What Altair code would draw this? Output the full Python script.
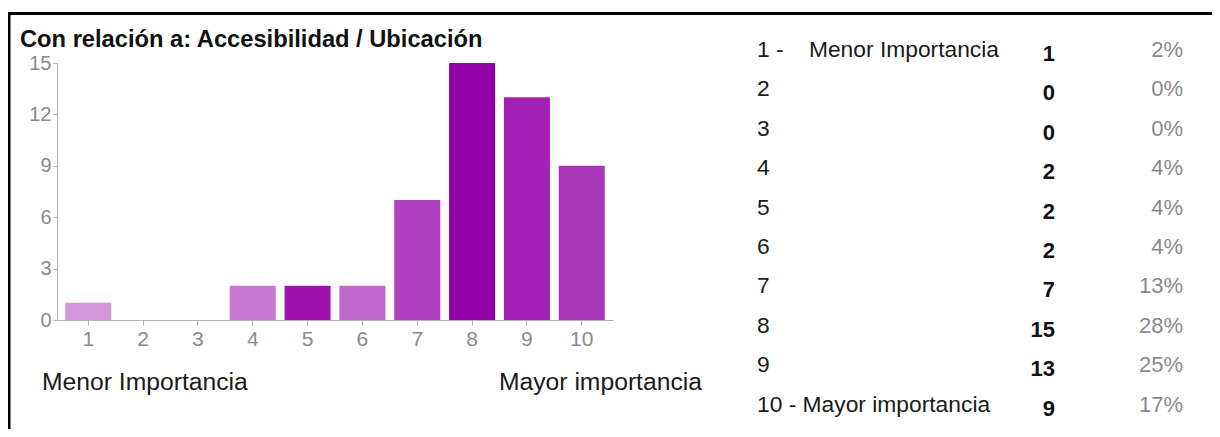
import altair as alt
import pandas as pd

# ---- data ----
ratings = ["1", "2", "3", "4", "5", "6", "7", "8", "9", "10"]
counts = [1, 0, 0, 2, 2, 2, 7, 15, 13, 9]
percents = ["2%", "0%", "0%", "4%", "4%", "4%", "13%", "28%", "25%", "17%"]
row_labels = ["1 -\u00a0\u00a0\u00a0\u00a0Menor Importancia", "2", "3", "4", "5", "6", "7", "8", "9",
              "10 - Mayor importancia"]
bar_colors = ["#d396da", "#c678d2", "#c678d2", "#c678d2", "#9e12b0",
              "#c068cc", "#b040c0", "#9400a8", "#a220b4", "#aa36ba"]
y_ticks = [0, 3, 6, 9, 12, 15]
title_text = "Con relación a: Accesibilidad / Ubicación"
low_label = "Menor Importancia"
high_label = "Mayor importancia"

FONT = "Liberation Sans"

df = pd.DataFrame({
    "rating": ratings,
    "count": counts,
    "pct": percents,
    "label": row_labels,
    "row": list(range(len(ratings))),
})

bars = alt.Chart(df).mark_bar().encode(
    x=alt.X("rating:O", sort=ratings,
            scale=alt.Scale(paddingInner=0.16, paddingOuter=0.15),
            axis=alt.Axis(title=None, labelAngle=0, labelFont=FONT, labelFontSize=21,
                          labelColor="#8a8a8a", domainColor="#b0b0b0", tickColor="#b0b0b0",
                          tickSize=5, labelPadding=3)),
    y=alt.Y("count:Q", scale=alt.Scale(domain=[0, 15], nice=False),
            axis=alt.Axis(title=None, values=y_ticks, grid=False, labelFont=FONT,
                          labelFontSize=20, labelColor="#8a8a8a", domainColor="#b0b0b0",
                          tickColor="#b0b0b0", tickSize=4, labelPadding=2)),
    color=alt.Color("rating:O", sort=ratings,
                    scale=alt.Scale(domain=ratings, range=bar_colors), legend=None),
)

row_scale = alt.Scale(domain=[0, 9], range=[-13, 341.6], nice=False, zero=False)

labels = alt.Chart(df).mark_text(align="left", baseline="middle", font=FONT,
                                 fontSize=22.8, color="#1a1a1a").encode(
    x=alt.value(700),
    y=alt.Y("row:Q", scale=row_scale, axis=None),
    text="label:N",
)
count_text = alt.Chart(df).mark_text(align="right", baseline="middle", font=FONT,
                                     fontSize=22, fontWeight="bold", color="#111111",
                                     dy=4).encode(
    x=alt.value(998),
    y=alt.Y("row:Q", scale=row_scale, axis=None),
    text="count:Q",
)
pct_text = alt.Chart(df).mark_text(align="right", baseline="middle", font=FONT,
                                   fontSize=22, color="#8a8a8a").encode(
    x=alt.value(1126),
    y=alt.Y("row:Q", scale=row_scale, axis=None),
    text="pct:N",
)

one = pd.DataFrame({"t": [title_text], "lo": [low_label], "hi": [high_label]})

title = alt.Chart(one).mark_text(align="left", baseline="alphabetic", font=FONT,
                                 fontSize=23.7, fontWeight="bold", color="#111111").encode(
    x=alt.value(-37), y=alt.value(-16), text="t:N")
low = alt.Chart(one).mark_text(align="left", baseline="middle", font=FONT,
                               fontSize=24.7, color="#1a1a1a").encode(
    x=alt.value(-15), y=alt.value(320), text="lo:N")
high = alt.Chart(one).mark_text(align="right", baseline="middle", font=FONT,
                                fontSize=24.7, color="#1a1a1a").encode(
    x=alt.value(645), y=alt.value(320), text="hi:N")

top_rule = alt.Chart(one).mark_rule(color="black", strokeWidth=3).encode(
    x=alt.value(-50), x2=alt.value(1160), y=alt.value(-49.5))
left_rule = alt.Chart(one).mark_rule(color="black", strokeWidth=3).encode(
    x=alt.value(-48), y=alt.value(-51), y2=alt.value(370))

chart = alt.layer(
    bars, labels, count_text, pct_text, title, low, high, top_rule, left_rule
).resolve_scale(y="independent").properties(
    width=556, height=257,
    padding={"left": 49, "top": 55, "right": 599, "bottom": 109},
    autosize=alt.AutoSizeParams(type="none"),
    background="white",
).configure_view(stroke=None)

chart.save("out.html", embed_options={"renderer": "svg", "actions": False})
